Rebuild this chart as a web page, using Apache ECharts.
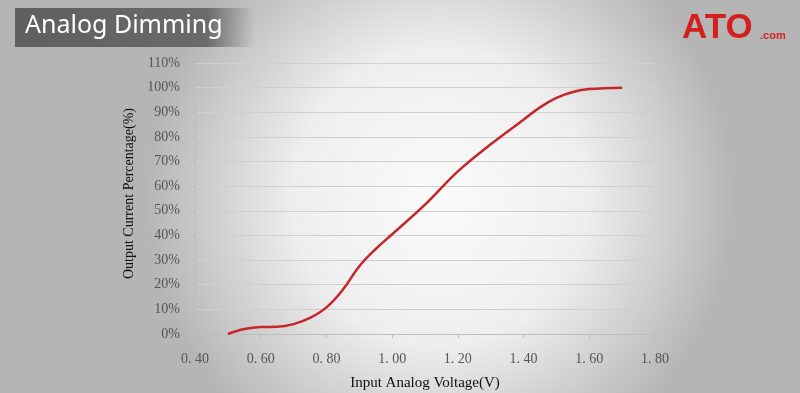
<!DOCTYPE html>
<html>
<head>
<meta charset="utf-8">
<script src="https://cdn.jsdelivr.net/npm/echarts@6/dist/echarts.min.js"></script>
<style>
html,body{margin:0;padding:0;}
#chart{width:800px;height:393px;}
</style>
</head>
<body>
<div id="chart"></div>
<script>
// Data
const voltages = [0.50, 0.55, 0.60, 0.65, 0.70, 0.75, 0.80, 0.85, 0.90, 0.95, 1.00, 1.10, 1.20, 1.30, 1.40, 1.45, 1.50, 1.55, 1.60, 1.70];
const outputPct = [0, 2.0, 2.8, 2.9, 4.0, 6.5, 10.8, 18, 27.5, 34.5, 40.5, 52.5, 66, 77, 87, 92, 95.8, 98.2, 99.4, 100];
const yTickMax = 110;
const xMin = 0.4, xMax = 1.8, xStep = 0.2;

const chart = echarts.init(document.getElementById('chart'));
const seriesData = voltages.map((v, i) => [v, outputPct[i]]);

chart.setOption({
  backgroundColor: {
    type: 'radial', x: 0.55, y: 0.5, r: 0.75,
    colorStops: [
      {offset: 0, color: '#fbfbfb'},
      {offset: 0.5, color: '#eeeeee'},
      {offset: 1, color: '#b5b5b5'}
    ]
  },
  animation: false,
  grid: {left: 195, right: 145, top: 63, bottom: 59, outerBoundsMode: 'none', containLabel: false},
  xAxis: {
    type: 'value', min: xMin, max: xMax, interval: xStep,
    name: 'Input Analog Voltage(V)', nameLocation: 'middle', nameGap: 42,
    nameTextStyle: {fontFamily: 'Liberation Serif', fontSize: 15, color: '#111'},
    axisLine: {show: true, lineStyle: {color: '#bdbdbd'}},
    axisTick: {show: true, length: 4, lineStyle: {color: '#bdbdbd'}},
    splitLine: {show: false},
    axisLabel: {
      fontFamily: 'Liberation Serif', fontSize: 14, color: '#555', margin: 18,
      formatter: v => v.toFixed(2).replace('.', '. ')
    }
  },
  yAxis: {
    type: 'value', min: 0, max: yTickMax, interval: 10,
    name: 'Output Current Percentage(%)', nameLocation: 'middle', nameGap: 55,
    nameTextStyle: {fontFamily: 'Liberation Serif', fontSize: 14, color: '#111', padding: [0, 0, 0, 10]},
    axisLine: {show: true, lineStyle: {color: '#bdbdbd'}},
    axisTick: {show: true, length: 4, lineStyle: {color: '#bdbdbd'}},
    splitLine: {show: true, lineStyle: {color: '#cfcfcf', width: 1}},
    axisLabel: {
      fontFamily: 'Liberation Serif', fontSize: 14, color: '#555', margin: 15,
      formatter: '{value}%'
    }
  },
  series: [{
    type: 'line', data: seriesData, smooth: 0.4, symbol: 'none',
    lineStyle: {color: '#c4262b', width: 2.5}
  }],
  graphic: [
    {
      type: 'rect', left: 15, top: 8, silent: true,
      shape: {width: 240, height: 39},
      style: {
        fill: {
          type: 'linear', x: 0, y: 0, x2: 1, y2: 0,
          colorStops: [
            {offset: 0, color: '#5f5f5f'},
            {offset: 0.8, color: '#6a6a6a'},
            {offset: 1, color: 'rgba(120,120,120,0)'}
          ]
        }
      }
    },
    {
      type: 'text', left: 25, top: 13,
      style: {text: 'Analog Dimming', fill: '#ffffff', font: '25px "Noto Sans"'}
    },
    {
      type: 'text', left: 682, top: 11,
      style: {text: 'ATO', fill: '#d51f1f', font: 'bold 35px "Liberation Sans"'}
    },
    {
      type: 'text', left: 760, top: 30,
      style: {text: '.com', fill: '#d51f1f', font: 'bold 11px "Liberation Sans"'}
    }
  ]
});
</script>
</body>
</html>
